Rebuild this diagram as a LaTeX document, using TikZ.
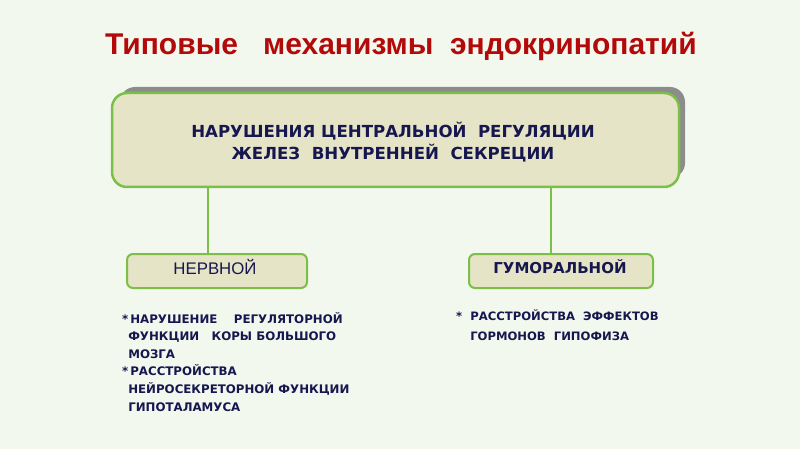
\documentclass[tikz,border=0pt]{standalone}
\usepackage{fontspec}
\setmainfont{Liberation Sans}
\newfontfamily\dejab{DejaVu Sans}
\definecolor{bgc}{HTML}{F3F8EE}
\definecolor{boxfill}{HTML}{E6E4C6}
\definecolor{boxline}{HTML}{7CBF48}
\definecolor{shadowc}{HTML}{8C8C8C}
\definecolor{navy}{HTML}{17174F}
\definecolor{titlered}{HTML}{B20A0A}
\begin{document}
\begin{tikzpicture}[x=1pt,y=-1pt,
  bigbox/.style={draw=boxline,line width=2.5pt,fill=boxfill,rounded corners=15pt},
  smallbox/.style={draw=boxline,line width=2pt,fill=boxfill,rounded corners=6pt},
  conn/.style={draw=boxline,line width=2pt},
  listtext/.style={text=navy,font=\dejab\bfseries\fontsize{11.8}{17.6}\selectfont,anchor=north west,align=left,inner sep=0pt}]
\fill[bgc] (0,0) rectangle (800,449);
\useasboundingbox (0,0) rectangle (800,449);
% title
\node[text=titlered,font=\bfseries\fontsize{30}{32}\selectfont] (title) at (401,46) {Типовые\ \ \ механизмы\ \ эндокринопатий};
% big box with shadow
\fill[shadowc,rounded corners=15pt] (120,87) rectangle (685,178);
\path[bigbox] (112,93) rectangle (679,187);
\node[text=navy,font=\dejab\bfseries\fontsize{16.6}{22}\selectfont,align=center] (main) at (393,142) {НАРУШЕНИЯ ЦЕНТРАЛЬНОЙ\ \ РЕГУЛЯЦИИ\\ЖЕЛЕЗ\ \ ВНУТРЕННЕЙ\ \ СЕКРЕЦИИ};
\coordinate (mainL) at (208,187);
\coordinate (mainR) at (551,187);
% small boxes
\path[smallbox] (127,254) rectangle (307,288);
\node[text=navy,font=\fontsize{16.8}{18}\selectfont] (nerv) at (215,267) {НЕРВНОЙ};
\path[smallbox] (469,254) rectangle (653,288);
\node[text=navy,font=\dejab\bfseries\fontsize{15}{18}\selectfont] (gum) at (560,267) {ГУМОРАЛЬНОЙ};
\coordinate (nervT) at (208,254);
\coordinate (gumT) at (551,254);
\draw[conn] (mainL) -- (nervT);
\draw[conn] (mainR) -- (gumT);
% lists
\node[listtext] (l1) at (122,312) {*\,НАРУШЕНИЕ\ \ \ \ РЕГУЛЯТОРНОЙ\\
\ \,ФУНКЦИИ\ \ \ КОРЫ БОЛЬШОГО\\
\ \,МОЗГА\\
*\,РАССТРОЙСТВА\\
\ \,НЕЙРОСЕКРЕТОРНОЙ ФУНКЦИИ\\
\ \,ГИПОТАЛАМУСА};
\node[listtext,font=\dejab\bfseries\fontsize{11.6}{19.5}\selectfont] (l2) at (456,310) {*\ \ РАССТРОЙСТВА\ \ ЭФФЕКТОВ\\
\ \ \ \,ГОРМОНОВ\ \ ГИПОФИЗА};
\end{tikzpicture}
\end{document}
